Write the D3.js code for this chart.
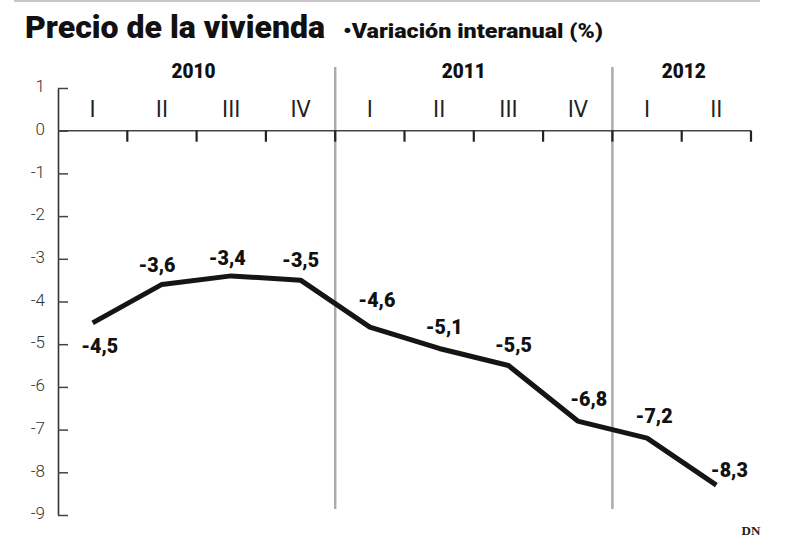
<!DOCTYPE html>
<html>
<head>
<meta charset="utf-8">
<script src="https://cdn.jsdelivr.net/npm/d3@7/dist/d3.min.js"></script>
<style>
  html, body { margin: 0; padding: 0; background: #fff; }
  svg { display: block; }
</style>
</head>
<body>
<script>
// ---- data ----
const quarters = ["I","II","III","IV","I","II","III","IV","I","II"];
const quarterYear = ["2010","2010","2010","2010","2011","2011","2011","2011","2012","2012"];
const years = ["2010","2011","2012"];
const values = [-4.5,-3.6,-3.4,-3.5,-4.6,-5.1,-5.5,-6.8,-7.2,-8.3];
const yTicks = [1,0,-1,-2,-3,-4,-5,-6,-7,-8,-9];
const valueLabels = ["-4,5","-3,6","-3,4","-3,5","-4,6","-5,1","-5,5","-6,8","-7,2","-8,3"];

// ---- layout (pixel nudges for labels) ----
const labelNudge = [[7,30],[-5,-12],[-4,-11],[0,-13],[7,-20],[5,-14],[5,-14],[11,-15],[7,-15],[13,-8]];
const yearNudge = [-3,-10,2];

const W = 788, H = 537;
const svg = d3.select("body").append("svg").attr("width", W).attr("height", H);

const x = d3.scaleBand().domain(d3.range(quarters.length)).range([58, 751]).padding(0);
const y = d3.scaleLinear().domain([-9, 1]).range([515, 88]);
const bw = x.bandwidth();
const cx = i => x(i) + bw / 2;

const boldFont = "Roboto, 'DejaVu Sans Condensed', sans-serif";

// top rule
svg.append("line").attr("x1", 14).attr("x2", 760).attr("y1", 1).attr("y2", 1)
  .attr("stroke", "#b5b5b5").attr("stroke-width", 1.5);

// title
svg.append("text").attr("x", 25).attr("y", 38)
  .attr("font-family", boldFont).attr("font-weight", 900).attr("font-size", 31)
  .attr("fill", "#111").attr("textLength", 300).attr("lengthAdjust", "spacingAndGlyphs")
  .text("Precio de la vivienda");
svg.append("text").attr("x", 343).attr("y", 38)
  .attr("font-family", boldFont).attr("font-weight", 900).attr("font-size", 20)
  .attr("fill", "#111").attr("textLength", 260).attr("lengthAdjust", "spacingAndGlyphs")
  .text("•Variación interanual (%)");

// year separators
const yearStarts = years.slice(1).map(yr => quarterYear.indexOf(yr));
svg.append("g").selectAll("line").data(yearStarts).join("line")
  .attr("x1", d => x(d)).attr("x2", d => x(d))
  .attr("y1", 67).attr("y2", 509)
  .attr("stroke", "#ababab").attr("stroke-width", 2.5);

// year labels
svg.append("g").selectAll("text").data(years).join("text")
  .attr("x", (yr, k) => {
    const idx = d3.range(quarters.length).filter(i => quarterYear[i] === yr);
    return (x(idx[0]) + x(idx[idx.length - 1]) + bw) / 2 + yearNudge[k];
  })
  .attr("y", 78).attr("text-anchor", "middle")
  .attr("font-family", boldFont).attr("font-weight", 900).attr("font-size", 20)
  .attr("fill", "#111").attr("textLength", 44).attr("lengthAdjust", "spacingAndGlyphs")
  .text(d => d);

// quarter labels
svg.append("g").selectAll("text").data(quarters).join("text")
  .attr("x", (d, i) => cx(i)).attr("y", 117).attr("text-anchor", "middle")
  .attr("font-family", "'Liberation Sans Narrow', 'DejaVu Sans Condensed', sans-serif")
  .attr("font-weight", 400).attr("font-size", 23)
  .attr("fill", "#222").text(d => d);

// y axis
const yAxis = d3.axisLeft(y).tickValues(yTicks).tickSize(-10).tickSizeOuter(0).tickPadding(13)
  .tickFormat(d => d3.format("d")(d).replace("−", "-"));
const gy = svg.append("g").attr("transform", "translate(58,0)").call(yAxis);
gy.select(".domain").attr("stroke", "#333").attr("stroke-width", 1.6);
gy.selectAll(".tick line").attr("stroke", "#444").attr("stroke-width", 1.5);
gy.selectAll(".tick text").attr("font-family", "Roboto, sans-serif").attr("font-weight", 300)
  .attr("font-size", 17).attr("fill", "#333").attr("dy", "0.22em");

// x axis (zero line with quarter boundary ticks)
const bounds = d3.range(1, quarters.length).map(i => x(i)).concat([x.range()[1]]);
svg.append("line").attr("x1", x.range()[0]).attr("x2", x.range()[1])
  .attr("y1", y(0)).attr("y2", y(0)).attr("stroke", "#444").attr("stroke-width", 1.5);
svg.append("g").selectAll("line").data(bounds).join("line")
  .attr("x1", d => d).attr("x2", d => d).attr("y1", y(0)).attr("y2", y(0) + 11)
  .attr("stroke", "#222").attr("stroke-width", 2.2);

// line
const line = d3.line().x((d, i) => cx(i)).y(d => y(d));
svg.append("path").datum(values).attr("d", line)
  .attr("fill", "none").attr("stroke", "#151515").attr("stroke-width", 5)
  .attr("stroke-linejoin", "round").attr("stroke-linecap", "butt");

// value labels
svg.append("g").selectAll("text").data(values).join("text")
  .attr("x", (d, i) => cx(i) + labelNudge[i][0])
  .attr("y", (d, i) => y(d) + labelNudge[i][1])
  .attr("text-anchor", "middle")
  .attr("font-family", boldFont).attr("font-weight", 900).attr("font-size", 21)
  .attr("fill", "#111").attr("textLength", 37).attr("lengthAdjust", "spacingAndGlyphs")
  .text((d, i) => valueLabels[i]);

// credit
svg.append("text").attr("x", 751).attr("y", 535).attr("text-anchor", "middle")
  .attr("font-family", "'Liberation Serif', 'DejaVu Serif', serif").attr("font-weight", 700)
  .attr("font-size", 13).attr("fill", "#222").text("DN");
</script>
</body>
</html>
